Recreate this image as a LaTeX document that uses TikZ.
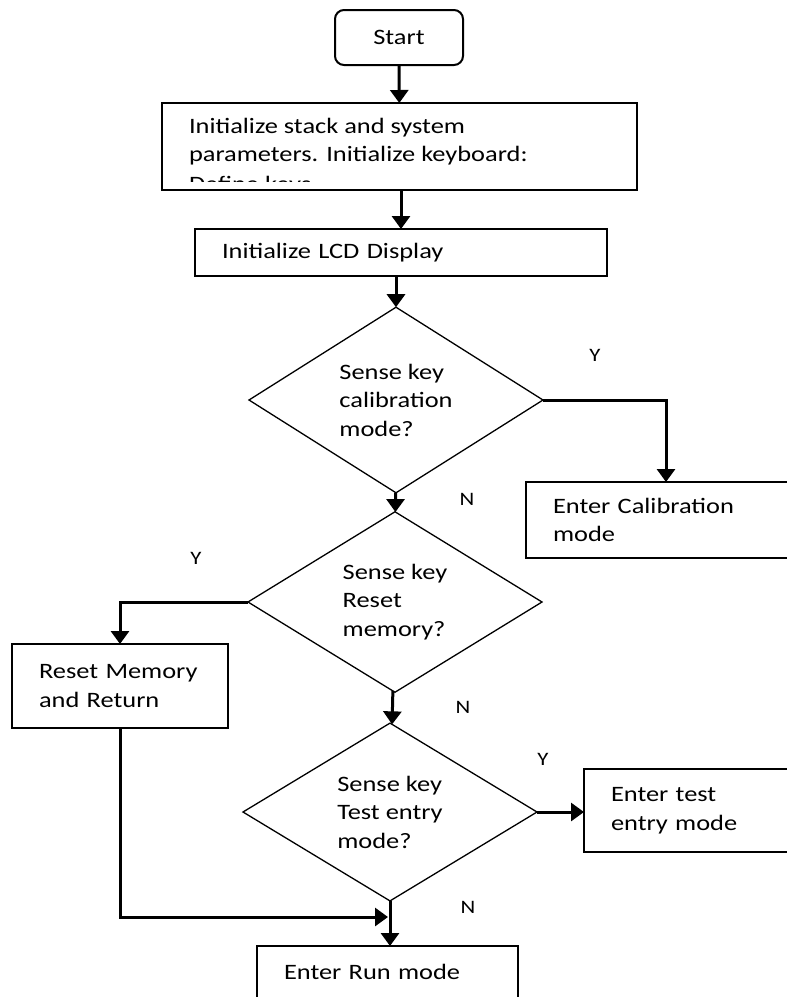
\documentclass[tikz,border=0pt]{standalone}
\usepackage{fontspec}
\setmainfont{Carlito}[FakeStretch=1.2]
\usetikzlibrary{arrows.meta,shapes.geometric}

\begin{document}
\begin{tikzpicture}[x=1pt,y=-1pt,>={Triangle[length=13pt,width=18pt]},
  every node/.style={font=\fontsize{22}{28.5}\selectfont,inner sep=0pt,outer sep=0pt},
  box/.style={draw,line width=2pt,align=left,inner xsep=27pt},
  dec/.style={draw,diamond,line width=1.3pt,align=left,minimum width=294pt,minimum height=179pt},
  arr/.style={->,line width=3pt},
  lbl/.style={font=\fontsize{19}{21}\selectfont}]
\useasboundingbox (0,0) rectangle (787,997);
\node[draw,line width=2pt,rounded corners=9pt,minimum width=128pt,minimum height=55pt](st) at (399,37.5){Start\hspace{18pt}};
\node[box,minimum width=475pt,minimum height=87pt](ini) at (399.5,146.5){};
\begin{scope}
\clip (ini.north west) rectangle (637,181);
\node[anchor=north west,align=left] at (189,118){Initialize stack and system\\parameters. Initialize keyboard:\\[1pt]Define keys};
\end{scope}
\node[box,text width=358pt,minimum height=47pt](lcd) at (401,252.5){Initialize LCD Display};
\node[dec](dc) at (396,400){Sense key\\calibration\\mode?};
\node[box,text width=226pt,minimum height=76pt](cal) at (666,520){Enter Calibration\\mode};
\node[dec](dr) at (395,602){Sense key\\Reset\\memory?};
\node[box,text width=162pt,minimum height=84pt](rst) at (120,686){Reset Memory\\and Return};
\node[dec,minimum height=177pt](dt) at (390,812){Sense key\\Test entry\\mode?};
\node[box,text width=162pt,minimum height=83pt](tst) at (692,810.5){Enter test\\entry mode};
\node[box,text width=207pt,minimum height=52pt](run) at (387.5,972){Enter Run mode};
% branch labels
\node[lbl](yc) at (595,355){Y};
\node[lbl](nc) at (467,499){N};
\node[lbl](yr) at (196,558){Y};
\node[lbl](nr) at (463,707){N};
\node[lbl](yt) at (543,759){Y};
\node[lbl](nt) at (468,907){N};
\coordinate(jn) at (388,917);
\draw[arr](st)--(ini);
\draw[arr](ini.south -| lcd.north)--(lcd.north);
\draw[arr](lcd.south -| dc.north)--(dc.north);
\draw[arr](dc)--(dr);
\draw[arr](dc.east)-|(cal.north);
\draw[arr](dr.west)-|(rst.north);
\draw[arr](dr)--(dt);
\draw[arr](dt.east)--(dt.east -| tst.west);
\draw[arr](dt.south)--(dt.south |- run.north);
\draw[arr](rst.south)|-(jn);
\end{tikzpicture}
\end{document}
